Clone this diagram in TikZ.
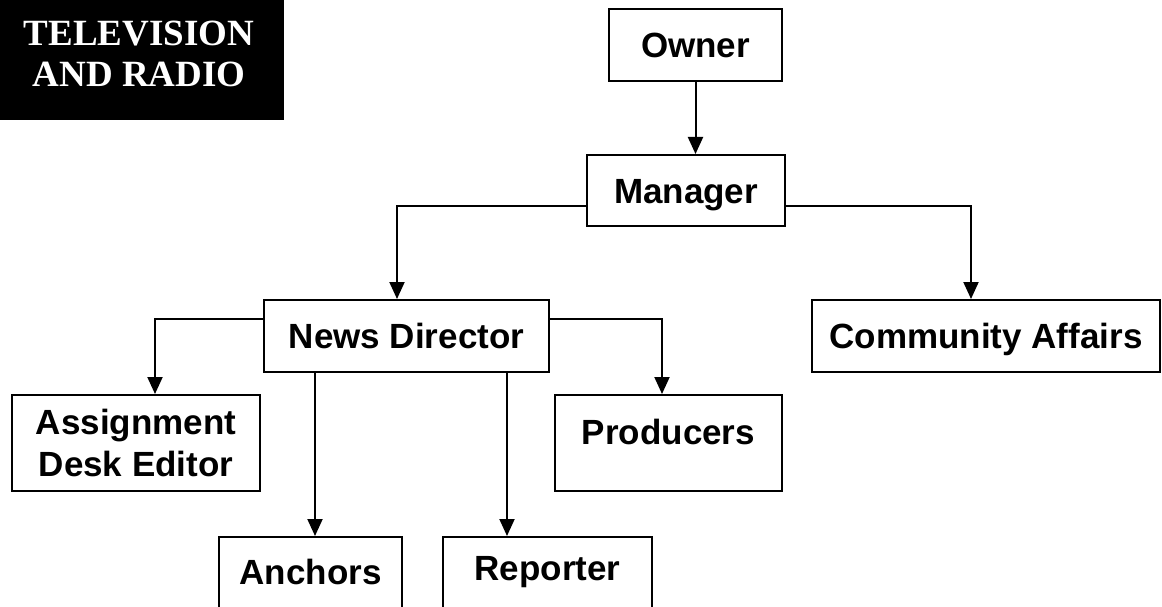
\documentclass[tikz,border=0pt]{standalone}
\usepackage{fontspec}
\setmainfont{Liberation Sans}
\newfontfamily\tvserif{Liberation Serif}
\usetikzlibrary{arrows.meta,calc}
\begin{document}
\begin{tikzpicture}[x=1pt,y=-1pt,
  boxbase/.style={draw=black, line width=2pt, inner sep=0pt, font=\fontsize{35}{42}\selectfont\bfseries},
  box/.style={boxbase, text height=25pt, text depth=0pt},
  mbox/.style={boxbase, align=center},
  conn/.style={line width=2pt, -{Triangle[length=17pt,width=15pt]}},
  tvbox/.style={fill=black, draw=none, inner sep=0pt},
  tvtext/.style={text=white, inner sep=0pt, align=center, font=\tvserif\fontsize{37}{41}\selectfont\bfseries}]
\useasboundingbox (0,0) rectangle (1162,607);
\clip (0,0) rectangle (1162,607);
\fill[white] (0,0) rectangle (1162,607);

% title block
\node[tvbox, minimum width=284pt, minimum height=120pt] (tv) at (142,60) {};
\node[tvtext] (tvlabel) at (139,53.5) {TELEVISION\\AND RADIO};

% boxes
\node[box, minimum width=173pt, minimum height=72pt] (owner) at (695.5,45) {Owner};
\node[box, minimum width=198pt, minimum height=71pt] (manager) at (686,190.5) {Manager};
\node[box, minimum width=285pt, minimum height=72pt] (nd) at (406.5,336) {News Director};
\node[box, minimum width=348pt, minimum height=72pt] (ca) at (986,336) {Community Affairs};
\node[mbox, minimum width=248pt, minimum height=96pt] (ade) at (136,443) {Assignment\\Desk Editor};
\node[box, minimum width=227pt, minimum height=96pt, text depth=22pt] (prod) at (668.5,443) {Producers};
\node[box, minimum width=183pt, minimum height=80pt, text depth=10pt] (anch) at (310.5,577) {Anchors};
\node[box, minimum width=209pt, minimum height=80pt, text depth=18pt] (rep) at (547.5,577) {Reporter};

% connectors
\draw[conn] (owner.south) -- (owner.south |- manager.north);
\draw[conn] ([yshift=-15.5pt]manager.west) -| ([xshift=-9.5pt]nd.north);
\draw[conn] ([yshift=-15.5pt]manager.east) -| ([xshift=-15pt]ca.north);
\draw[conn] ([yshift=17pt]nd.west) -| ([xshift=19pt]ade.north);
\draw[conn] ([yshift=17pt]nd.east) -| ([xshift=-6.5pt]prod.north);
\coordinate (anchtop) at ([xshift=4.5pt]anch.north);
\coordinate (reptop) at ([xshift=-40.5pt]rep.north);
\draw[conn] (nd.south -| anchtop) -- (anchtop);
\draw[conn] (nd.south -| reptop) -- (reptop);
\end{tikzpicture}
\end{document}
